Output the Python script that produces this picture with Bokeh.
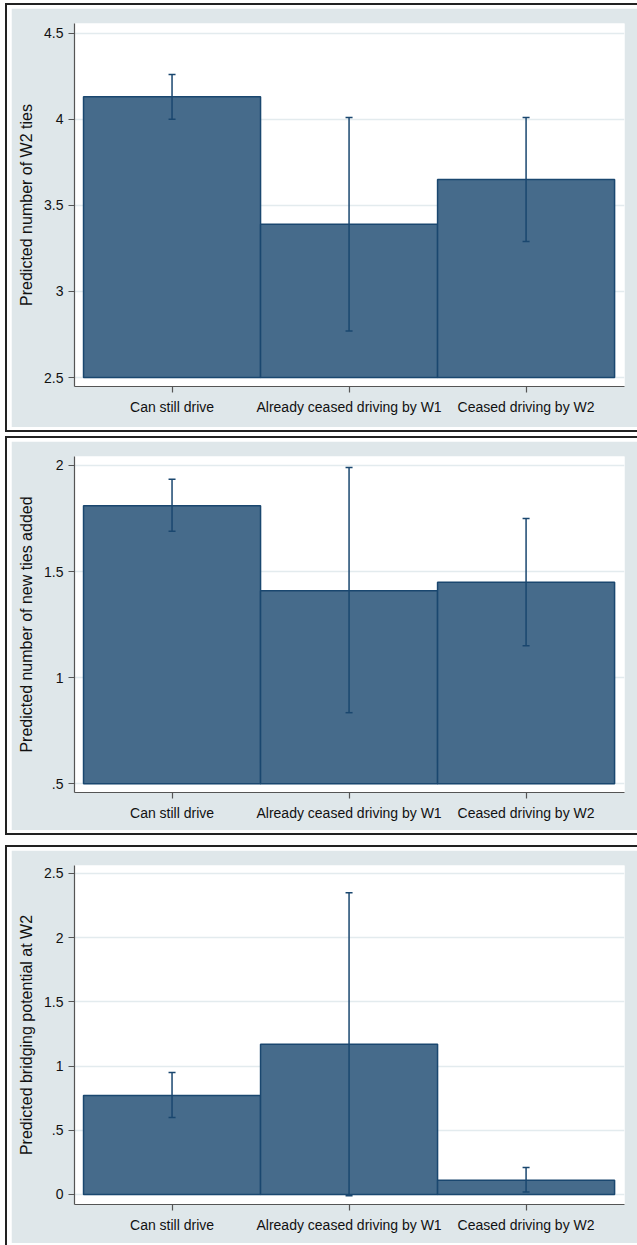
from bokeh.plotting import figure
from bokeh.layouts import column, row
from bokeh.models import ColumnDataSource, Range1d, FixedTicker, Whisker, TeeHead, Spacer
from bokeh.embed import file_html
from bokeh.resources import INLINE

# Driving status groups
categories = ["Can still drive", "Already ceased driving by W1", "Ceased driving by W2"]

# Predicted number of W2 ties (with 95% CI)
ties_w2 = [4.13, 3.39, 3.65]
ties_w2_lo = [4.00, 2.77, 3.29]
ties_w2_hi = [4.26, 4.01, 4.01]
ties_w2_ticks = [2.5, 3.0, 3.5, 4.0, 4.5]

# Predicted number of new ties added (with 95% CI)
new_ties = [1.81, 1.41, 1.45]
new_ties_lo = [1.69, 0.835, 1.15]
new_ties_hi = [1.935, 1.99, 1.75]
new_ties_ticks = [0.5, 1.0, 1.5, 2.0]

# Predicted bridging potential at W2 (with 95% CI)
bridging = [0.77, 1.17, 0.11]
bridging_lo = [0.60, -0.01, 0.02]
bridging_hi = [0.95, 2.35, 0.21]
bridging_ticks = [0.0, 0.5, 1.0, 1.5, 2.0, 2.5]

FONT = "Liberation Sans"
BG = "#dfe7ea"
GRID = "#e3ebee"
BAR_FILL = "#466b8b"
BAR_LINE = "#1a476f"
AXIS = "#555555"
TEXT = "#111111"
FRAME_LINE = "#222222"

PAGE_W = 637
FIG_W = 626
FRAME_W = 550


def stata_label(v):
    s = f"{v:g}"
    if s.startswith("0.") and s != "0":
        s = s[1:]
    return s


def panel(title, vals, lo, hi, ticks, base, y_range, height, bottom_border):
    xs = [i + 1 for i in range(len(categories))]
    src = ColumnDataSource(dict(x=xs, top=vals, lo=lo, hi=hi))

    p = figure(
        width=FIG_W, height=height,
        x_range=Range1d(0.449, 3.556), y_range=Range1d(*y_range),
        output_backend="svg", toolbar_location=None,
        min_border_left=63, min_border_right=FIG_W - 63 - FRAME_W,
        min_border_top=15, min_border_bottom=bottom_border,
        background_fill_color="white", border_fill_color=BG,
        outline_line_color=None,
    )

    p.vbar(x="x", top="top", bottom=base, width=1.0, source=src,
           fill_color=BAR_FILL, line_color=BAR_LINE, line_width=1.5)

    head = dict(size=7, line_color=BAR_LINE, line_width=1.5)
    p.add_layout(Whisker(source=src, base="x", lower="lo", upper="hi",
                         line_color=BAR_LINE, line_width=1.5, level="overlay",
                         upper_head=TeeHead(**head), lower_head=TeeHead(**head)))

    # x axis: one tick per group
    xa = p.xaxis[0]
    xa.ticker = FixedTicker(ticks=xs)
    xa.major_label_overrides = {x: c for x, c in zip(xs, categories)}
    # y axis: Stata-style labels
    ya = p.yaxis[0]
    ya.ticker = FixedTicker(ticks=ticks)
    ya.major_label_overrides = {t: stata_label(t) for t in ticks}
    ya.axis_label = title

    for ax in (xa, ya):
        ax.axis_line_color = AXIS
        ax.axis_line_width = 1.2
        ax.major_tick_line_color = AXIS
        ax.major_tick_line_width = 1.2
        ax.major_tick_out = 6
        ax.major_tick_in = 0
        ax.minor_tick_line_color = None
        ax.major_label_text_font = FONT
        ax.major_label_text_font_size = "14px"
        ax.major_label_text_color = TEXT
    xa.major_label_standoff = 6
    ya.major_label_standoff = 5
    ya.axis_label_text_font = FONT
    ya.axis_label_text_font_size = "16px"
    ya.axis_label_text_font_style = "normal"
    ya.axis_label_text_color = TEXT
    ya.axis_label_standoff = 6

    p.xgrid.grid_line_color = None
    p.ygrid.ticker = FixedTicker(ticks=ticks)
    p.ygrid.grid_line_color = GRID
    p.ygrid.grid_line_width = 1.3
    return p


def box(w, h, color=None):
    styles = {"background-color": color} if color else {}
    return Spacer(width=w, height=h, styles=styles)


def framed(p, height, bottom_line=True):
    """Panel with a black rule on its left, top and bottom, separated by a white gap."""
    line_w = PAGE_W - 5
    rows = [
        row(box(5, 2), box(line_w, 2, FRAME_LINE), spacing=0),
        row(box(5, 3), box(2, 3, FRAME_LINE), spacing=0),
        row(box(5, height), box(2, height, FRAME_LINE), box(4, height), p, spacing=0),
    ]
    if bottom_line:
        rows.append(row(box(5, 3), box(2, 3, FRAME_LINE), spacing=0))
        rows.append(row(box(5, 2), box(line_w, 2, FRAME_LINE), spacing=0))
    return rows


p1 = panel("Predicted number of W2 ties", ties_w2, ties_w2_lo, ties_w2_hi,
           ties_w2_ticks, 2.5, (2.448, 4.556), 419, 41)
p2 = panel("Predicted number of new ties added", new_ties, new_ties_lo, new_ties_hi,
           new_ties_ticks, 0.5, (0.459, 2.042), 389, 38)
p3 = panel("Predicted bridging potential at W2", bridging, bridging_lo, bridging_hi,
           bridging_ticks, 0.0, (-0.078, 2.562), 393, 39)

children = [box(PAGE_W, 3)]
children += framed(p1, 419)          # y 3 .. 432
children.append(box(PAGE_W, 4))      # gap between panels
children += framed(p2, 389)          # y 436 .. 835
children.append(box(PAGE_W, 10))
children += framed(p3, 393, bottom_line=False)   # y 845 .. 1243
children.append(row(box(5, 2), box(2, 2, FRAME_LINE), spacing=0))

layout = column(*children, spacing=0)

open("out.html", "w").write(file_html(layout, INLINE))
